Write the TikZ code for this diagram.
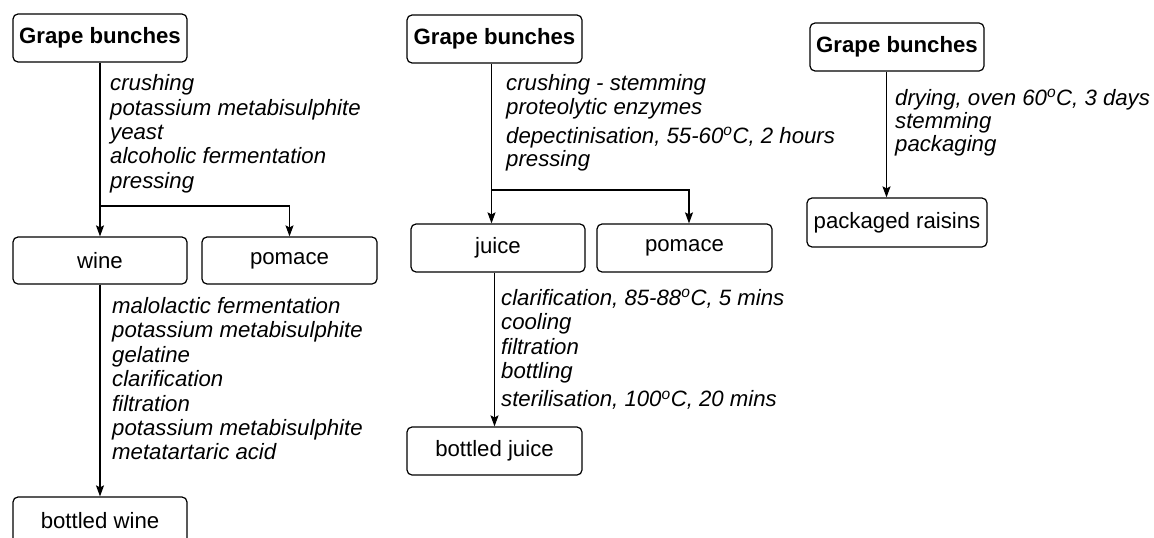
\documentclass[tikz,border=0pt]{standalone}
\usepackage{fontspec}
\setmainfont{Liberation Sans}
\usetikzlibrary{arrows.meta}
\newcommand{\topline}{\rule{0pt}{17pt}}
\newcommand{\degs}{\textsuperscript{o}}
\begin{document}
\begin{tikzpicture}[x=1pt,y=-1pt,
  box/.style={draw, rounded corners=5pt, line width=1.2pt, minimum width=174pt,
    minimum height=47pt, inner sep=0pt, font=\fontsize{22.2}{24}\selectfont},
  head/.style={box, minimum height=48pt, font=\fontsize{22.2}{24}\selectfont\bfseries},
  arr/.style={line width=1.2pt, -{Stealth[length=11pt,width=8pt,inset=2pt]}},
  steps/.style={anchor=north west, align=left, inner sep=0pt},
  stepfont/.style={font=\fontsize{22.2}{#1}\selectfont\itshape}]
\useasboundingbox (0,0) rectangle (1154,538);
\clip (0,0) rectangle (1154,538);

% wine
\node[head] (g1) at (100,38) {Grape bunches};
\node[box, minimum height=47pt] (wine) at (100,260.5) {wine};
\node[box, minimum width=175pt] (pom1) at (289.5,260.5) {pomace};
\node[box, minimum height=48pt] (bw) at (100,521) {bottled wine};
\coordinate (s1) at (290,206);
\draw[arr] (g1.south) -- (wine.north);
\draw[arr] (g1.south |- s1) -| (pom1.north);
\draw[arr] (wine.south) -- (bw.north);
\node[steps, stepfont=24.3] (t1) at (110,73.7) {\topline crushing\\potassium metabisulphite\\yeast\\alcoholic fermentation\\pressing};
\node[steps, stepfont=24.4] (t2) at (112,296.3) {\topline malolactic fermentation\\potassium metabisulphite\\gelatine\\clarification\\filtration\\potassium metabisulphite\\metatartaric acid};

% juice
\node[head, minimum width=175pt] (g2) at (494.5,39) {Grape bunches};
\node[box, minimum height=48pt] (juice) at (498,248) {juice};
\node[box, minimum width=175pt, minimum height=48pt] (pom2) at (684.5,248) {pomace};
\node[box, minimum width=175pt, minimum height=48pt] (bj) at (494.5,451) {bottled juice};
\coordinate (m1) at (491.5,190);
\coordinate (m2) at (689,190);
\draw[arr] (g2.south -| m1) -- (juice.north -| m1);
\draw[arr] (m1) -| (pom2.north -| m2);
\draw[arr] (juice.south -| bj.north) -- (bj.north);
\node[steps, stepfont=23.5] (t3) at (506,73.7) {\topline crushing - stemming\\proteolytic enzymes\\[5.5pt]depectinisation, 55-60\degs C, 2 hours\\pressing};
\node[steps, stepfont=24.5] (t4) at (501,288) {\topline clarification, 85-88\degs C, 5 mins\\cooling\\filtration\\bottling\\[3.5pt]sterilisation, 100\degs C, 20 mins};

% raisins
\node[head] (g3) at (897,47) {Grape bunches};
\node[box, minimum width=180pt, minimum height=49pt] (rais) at (897,222.5) {packaged raisins};
\coordinate (r1) at (886.5,0);
\draw[arr] (g3.south -| r1) -- (rais.north -| r1);
\node[steps, stepfont=23.3] (t5) at (895,88) {\topline drying, oven 60\degs C, 3 days\\stemming\\packaging};
\end{tikzpicture}
\end{document}
